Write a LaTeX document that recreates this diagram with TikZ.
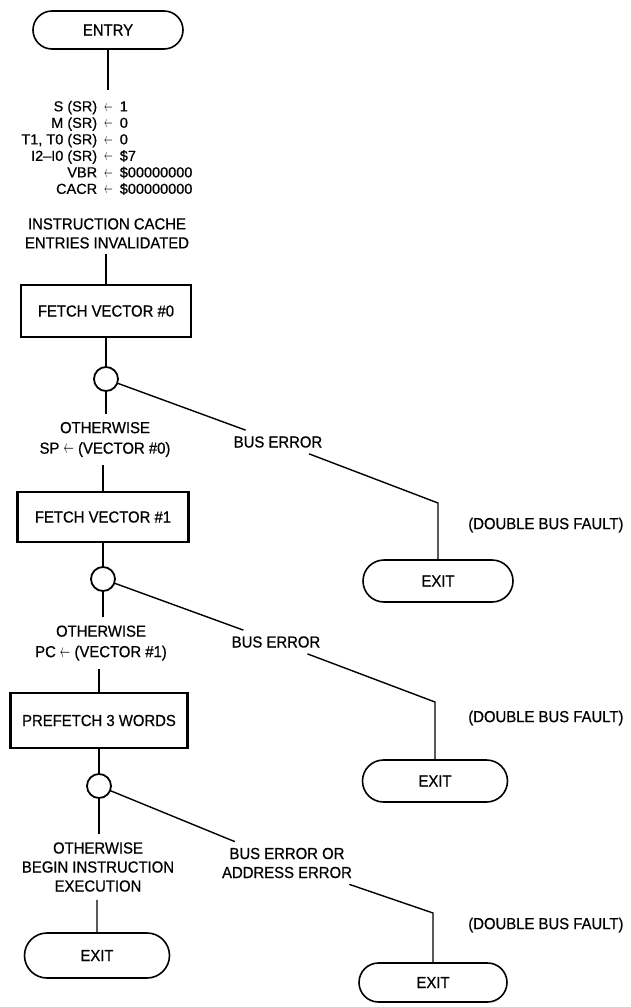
\documentclass[tikz,border=0pt]{standalone}
\usepackage{fontspec}
\setmainfont{Liberation Sans}[FakeStretch=0.93, FakeBold=0.6]
\newfontfamily\rowfont{Liberation Sans}[FakeStretch=1.0, FakeBold=0.6, Ligatures=TeX]
\usetikzlibrary{shapes.misc}
\newcommand{\asg}{\scalebox{0.6}[1.1]{$\leftarrow$}}
\begin{document}
\begin{tikzpicture}[x=1pt,y=-1pt,
  every node/.style={font=\fontsize{16}{19}\selectfont},
  terminal/.style={draw, rounded rectangle, line width=1.6pt, minimum width=148pt, minimum height=42pt, inner sep=0pt},
  procbox/.style={draw, rectangle, line width=2.2pt, minimum height=52pt, inner sep=0pt},
  junction/.style={draw, circle, line width=1.8pt, minimum size=24pt, inner sep=0pt},
  lbl/.style={align=center, inner xsep=3pt, inner ysep=6pt},
  owlbl/.style={lbl, inner ysep=8pt},
  conn/.style={line width=1.4pt}]
\useasboundingbox (0,0) rectangle (630,1007);

% main column
\node[terminal, minimum width=150pt, minimum height=38pt] (entry) at (108,30) {ENTRY};
\node[anchor=north, inner xsep=0pt, inner ysep=7.5pt, font=\rowfont\fontsize{14.5}{19.5}\selectfont] (assign) at (108.5,90) {%
\begin{tabular}{@{}r@{\hspace{7pt}}c@{\hspace{7pt}}l@{}}
\makebox[80pt][r]{S (SR)} & \asg & \makebox[80pt][l]{1}\\[-3pt]
M (SR) & \asg & 0\\[-3pt]
T1, T0 (SR) & \asg & 0\\[-3pt]
I2–I0 (SR) & \asg & \$7\\[-3pt]
VBR & \asg & \$00000000\\[-3pt]
CACR & \asg & \$00000000
\end{tabular}};
\node[lbl, inner ysep=5pt] (cache) at (107,233.4) {INSTRUCTION CACHE\\ENTRIES INVALIDATED};
\node[procbox, minimum width=170pt] (fv0) at (106,311) {FETCH VECTOR \#0};
\node[junction] (c1) at (106,379) {};
\node[owlbl, font=\fontsize{16}{20.5}\selectfont] (ow1) at (105,439.5) {OTHERWISE\\SP \asg{} (VECTOR \#0)};
\node[procbox, minimum width=171pt, minimum height=50pt] (fv1) at (103,517) {FETCH VECTOR \#1};
\node[junction] (c2) at (103,579) {};
\node[owlbl, font=\fontsize{16}{20.5}\selectfont] (ow2) at (101,643) {OTHERWISE\\PC \asg{} (VECTOR \#1)};
\node[procbox, minimum width=177pt, minimum height=55pt] (pf) at (99,720.5) {PREFETCH 3 WORDS};
\node[junction] (c3) at (99,786) {};
\node[owlbl] (ow3) at (98,867) {OTHERWISE\\BEGIN INSTRUCTION\\EXECUTION};
\node[terminal, minimum width=145pt, minimum height=45pt] (exit0) at (97,955.5) {EXIT};

% branches
\node[lbl] (be1) at (278,442) {BUS ERROR};
\coordinate (k1) at (438,503);
\node[terminal, minimum width=150pt] (exit1) at (438,581) {EXIT};
\node[anchor=east] (dbf1) at (627,525) {(DOUBLE BUS FAULT)};

\node[lbl] (be2) at (276,642) {BUS ERROR};
\coordinate (k2) at (435,702);
\node[terminal, minimum width=145pt] (exit2) at (435,781) {EXIT};
\node[anchor=east] (dbf2) at (627,718) {(DOUBLE BUS FAULT)};

\node[lbl] (be3) at (287,863) {BUS ERROR OR\\ADDRESS ERROR};
\coordinate (k3) at (433,913);
\node[terminal, minimum width=148pt, minimum height=39pt] (exit3) at (433,982.5) {EXIT};
\node[anchor=east] (dbf3) at (627,925) {(DOUBLE BUS FAULT)};

% connectors
\draw[conn] (entry.south) -- (entry.south |- assign.north);
\draw[conn] (fv0.north) -- (fv0.north |- cache.south);
\draw[conn] (fv0) -- (c1);
\draw[conn] (c1) -- (c1 |- ow1.north);
\draw[conn] (fv1) -- (fv1 |- ow1.south);
\draw[conn] (fv1) -- (c2);
\draw[conn] (c2) -- (c2 |- ow2.north);
\draw[conn] (pf) -- (pf |- ow2.south);
\draw[conn] (pf) -- (c3);
\draw[conn] (c3) -- (c3 |- ow3.north);
\draw[conn] (exit0) -- (exit0 |- ow3.south);

\draw[conn] (c1) -- (be1);
\draw[conn] (be1) -- (k1) -- (exit1);
\draw[conn] (c2) -- (be2);
\draw[conn] (be2) -- (k2) -- (exit2);
\draw[conn] (c3) -- (be3);
\draw[conn] (be3) -- (k3) -- (exit3);
\end{tikzpicture}
\end{document}
